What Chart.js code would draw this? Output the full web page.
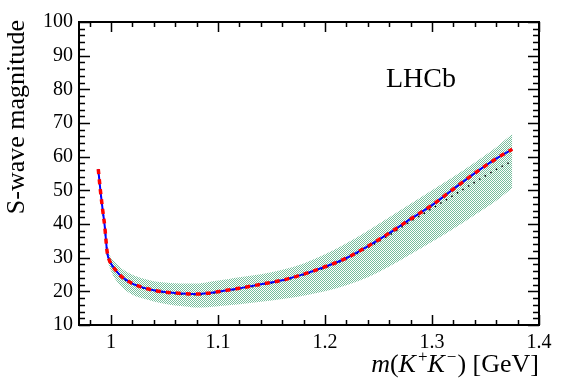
<!DOCTYPE html>
<html>
<head>
<meta charset="utf-8">
<script src="https://cdn.jsdelivr.net/npm/chart.js@4.4.0/dist/chart.umd.min.js"></script>
<style>
  html, body { margin: 0; padding: 0; background: #fff; }
  #chSwave { display: block; }
</style>
</head>
<body>
<canvas id="chSwave" width="568" height="387"></canvas>
<script>
// m(K+K-) in GeV
var mass = [0.988, 0.990, 0.992, 0.994, 0.995, 0.996, 0.997, 0.998, 1.000, 1.004, 1.010, 1.020,
  1.030, 1.040, 1.050, 1.060, 1.070, 1.080, 1.090, 1.100, 1.110, 1.120, 1.140, 1.160,
  1.180, 1.200, 1.220, 1.240, 1.260, 1.280, 1.300, 1.320, 1.340, 1.360, 1.375];

// fit result (red dashed over blue solid)
var magnitudeFit = [56.3, 50.0, 44.5, 39.5, 36.0, 32.5, 30.5, 29.5, 28.2, 26.4, 24.3, 22.3,
  21.1, 20.3, 19.8, 19.5, 19.3, 19.2, 19.4, 19.9, 20.4, 20.9, 22.1, 23.3,
  25.1, 27.3, 29.9, 33.4, 37.3, 41.5, 45.6, 50.4, 55.1, 59.4, 62.2];

// alternative model (black dotted)
var magnitudeAlt = [56.2, 49.9, 44.4, 39.4, 35.9, 32.3, 30.3, 29.3, 28.0, 26.2, 24.1, 22.1,
  20.9, 20.1, 19.6, 19.3, 19.1, 19.0, 19.2, 19.7, 20.2, 20.7, 21.9, 23.1,
  24.9, 27.0, 29.6, 33.0, 36.7, 40.8, 44.6, 48.5, 52.4, 56.2, 58.7];

// uncertainty band
var bandUpper = [56.8, 50.6, 45.3, 40.6, 37.4, 34.0, 32.3, 31.2, 30.0, 28.6, 26.8, 24.9,
  23.8, 23.0, 22.6, 22.4, 22.3, 22.3, 22.7, 23.2, 23.7, 24.2, 25.1, 26.4,
  28.3, 31.0, 34.3, 38.0, 42.0, 46.0, 50.0, 54.0, 58.3, 62.8, 66.8];
var bandLower = [55.8, 49.3, 43.6, 38.4, 34.6, 31.0, 29.0, 27.8, 26.0, 23.6, 21.3, 19.0,
  17.9, 17.0, 16.3, 15.8, 15.5, 15.2, 15.3, 15.6, 15.9, 16.2, 16.9, 17.7,
  18.7, 20.0, 21.8, 24.2, 27.4, 31.0, 34.7, 38.6, 42.7, 46.9, 50.7];

var xTickValues = [1.0, 1.1, 1.2, 1.3, 1.4];
var yTickValues = [10, 20, 30, 40, 50, 60, 70, 80, 90, 100];

var serif = "'Liberation Serif', 'Times New Roman', serif";

function pts(ys) {
  return mass.map(function (m, i) { return { x: m, y: ys[i] }; });
}

var cv = document.getElementById("chSwave");
var ctx = cv.getContext("2d");

// checkered green fill like the ROOT hatch
var pc = document.createElement("canvas");
pc.width = 2; pc.height = 2;
var pctx = pc.getContext("2d");
pctx.fillStyle = "rgb(118,190,156)";
pctx.fillRect(0, 0, 1, 1);
pctx.fillRect(1, 1, 1, 1);
var bandPattern = ctx.createPattern(pc, "repeat");

// frame, inward ticks, axis titles and the LHCb label
var framePlugin = {
  id: "frame",
  afterDatasetsDraw: function (chart) {
    var c = chart.ctx, a = chart.chartArea;
    var xs = chart.scales.x, ys = chart.scales.y;
    c.save();
    c.strokeStyle = "#000";
    c.lineWidth = 2;
    c.strokeRect(a.left, a.top, a.right - a.left, a.bottom - a.top);
    c.lineWidth = 1.5;
    c.beginPath();
    var v, px, len;
    for (var k = 0; k <= 21; k++) {
      v = 0.98 + k * 0.02;
      if (v > 1.4001) break;
      px = Math.round(xs.getPixelForValue(v)) + 0.5;
      len = (k % 5 === 1) ? 10 : 5;
      c.moveTo(px, a.bottom); c.lineTo(px, a.bottom - len);
      c.moveTo(px, a.top); c.lineTo(px, a.top + len);
    }
    for (var j = 0; j <= 45; j++) {
      v = 10 + j * 2;
      px = Math.round(ys.getPixelForValue(v)) + 0.5;
      len = (j % 5 === 0) ? 11 : 6;
      c.moveTo(a.left, px); c.lineTo(a.left + len, px);
      c.moveTo(a.right, px); c.lineTo(a.right - len, px);
    }
    c.stroke();

    c.fillStyle = "#000";
    // LHCb
    c.font = "28px " + serif;
    c.textAlign = "left";
    c.textBaseline = "alphabetic";
    c.fillText("LHCb", 386, 87);

    // y title
    c.save();
    c.translate(24, a.top - 2);
    c.rotate(-Math.PI / 2);
    c.font = "26px " + serif;
    c.textAlign = "right";
    c.fillText("S-wave magnitude", 0, 0);
    c.restore();

    // x title with italics and superscripts
    var segs = [
      { t: "m", f: "italic 26px " + serif, dy: 0, gap: 0 },
      { t: "(", f: "26px " + serif, dy: 0, gap: 0 },
      { t: "K", f: "italic 26px " + serif, dy: 0, gap: 2 },
      { t: "+", f: "17px " + serif, dy: -10, gap: 0 },
      { t: "K", f: "italic 26px " + serif, dy: 0, gap: 2 },
      { t: "\u2212", f: "17px " + serif, dy: -10, gap: 1 },
      { t: ") [GeV]", f: "26px " + serif, dy: 0, gap: 0 }
    ];
    var total = 0;
    segs.forEach(function (s) { c.font = s.f; s.w = c.measureText(s.t).width + s.gap; total += s.w; });
    var x0 = a.right - total;
    c.textAlign = "left";
    segs.forEach(function (s) {
      c.font = s.f;
      c.fillText(s.t, x0, 372 + s.dy);
      x0 += s.w;
    });
    c.restore();
  }
};

new Chart(cv, {
  type: "line",
  data: {
    datasets: [
      { data: pts(magnitudeFit), borderColor: "#ff0000", borderWidth: 3.5, borderDash: [5, 5],
        pointRadius: 0, fill: false, cubicInterpolationMode: "monotone" },
      { data: pts(magnitudeFit), borderColor: "#0000ff", borderWidth: 2,
        pointRadius: 0, fill: false, cubicInterpolationMode: "monotone" },
      { data: pts(magnitudeAlt), borderColor: "#000000", borderWidth: 1.5, borderDash: [1.5, 5],
        pointRadius: 0, fill: false, cubicInterpolationMode: "monotone" },
      { data: pts(bandUpper), borderWidth: 0, borderColor: "rgba(0,0,0,0)", backgroundColor: bandPattern,
        pointRadius: 0, fill: "+1", cubicInterpolationMode: "monotone" },
      { data: pts(bandLower), borderWidth: 0, borderColor: "rgba(0,0,0,0)",
        pointRadius: 0, fill: false, cubicInterpolationMode: "monotone" }
    ]
  },
  options: {
    responsive: false,
    animation: false,
    devicePixelRatio: 1,
    layout: { padding: { top: 22, right: 29, left: 0, bottom: 0 } },
    plugins: { legend: { display: false }, tooltip: { enabled: false } },
    scales: {
      x: {
        type: "linear", min: 0.97, max: 1.4,
        grid: { display: false, drawTicks: false },
        border: { display: false },
        afterBuildTicks: function (s) { s.ticks = xTickValues.map(function (v) { return { value: v }; }); },
        afterFit: function (s) { s.height = 62; },
        ticks: {
          padding: 6, color: "#000", font: { family: serif, size: 20 },
          maxRotation: 0, autoSkip: false,
          callback: function (v) { return String(Math.round(v * 10) / 10); }
        }
      },
      y: {
        type: "linear", min: 10, max: 100,
        grid: { display: false, drawTicks: false },
        border: { display: false },
        afterBuildTicks: function (s) { s.ticks = yTickValues.map(function (v) { return { value: v }; }); },
        afterFit: function (s) { s.width = 79; },
        ticks: { padding: 6, color: "#000", font: { family: serif, size: 20 }, autoSkip: false }
      }
    }
  },
  plugins: [framePlugin]
});
</script>
</body>
</html>
